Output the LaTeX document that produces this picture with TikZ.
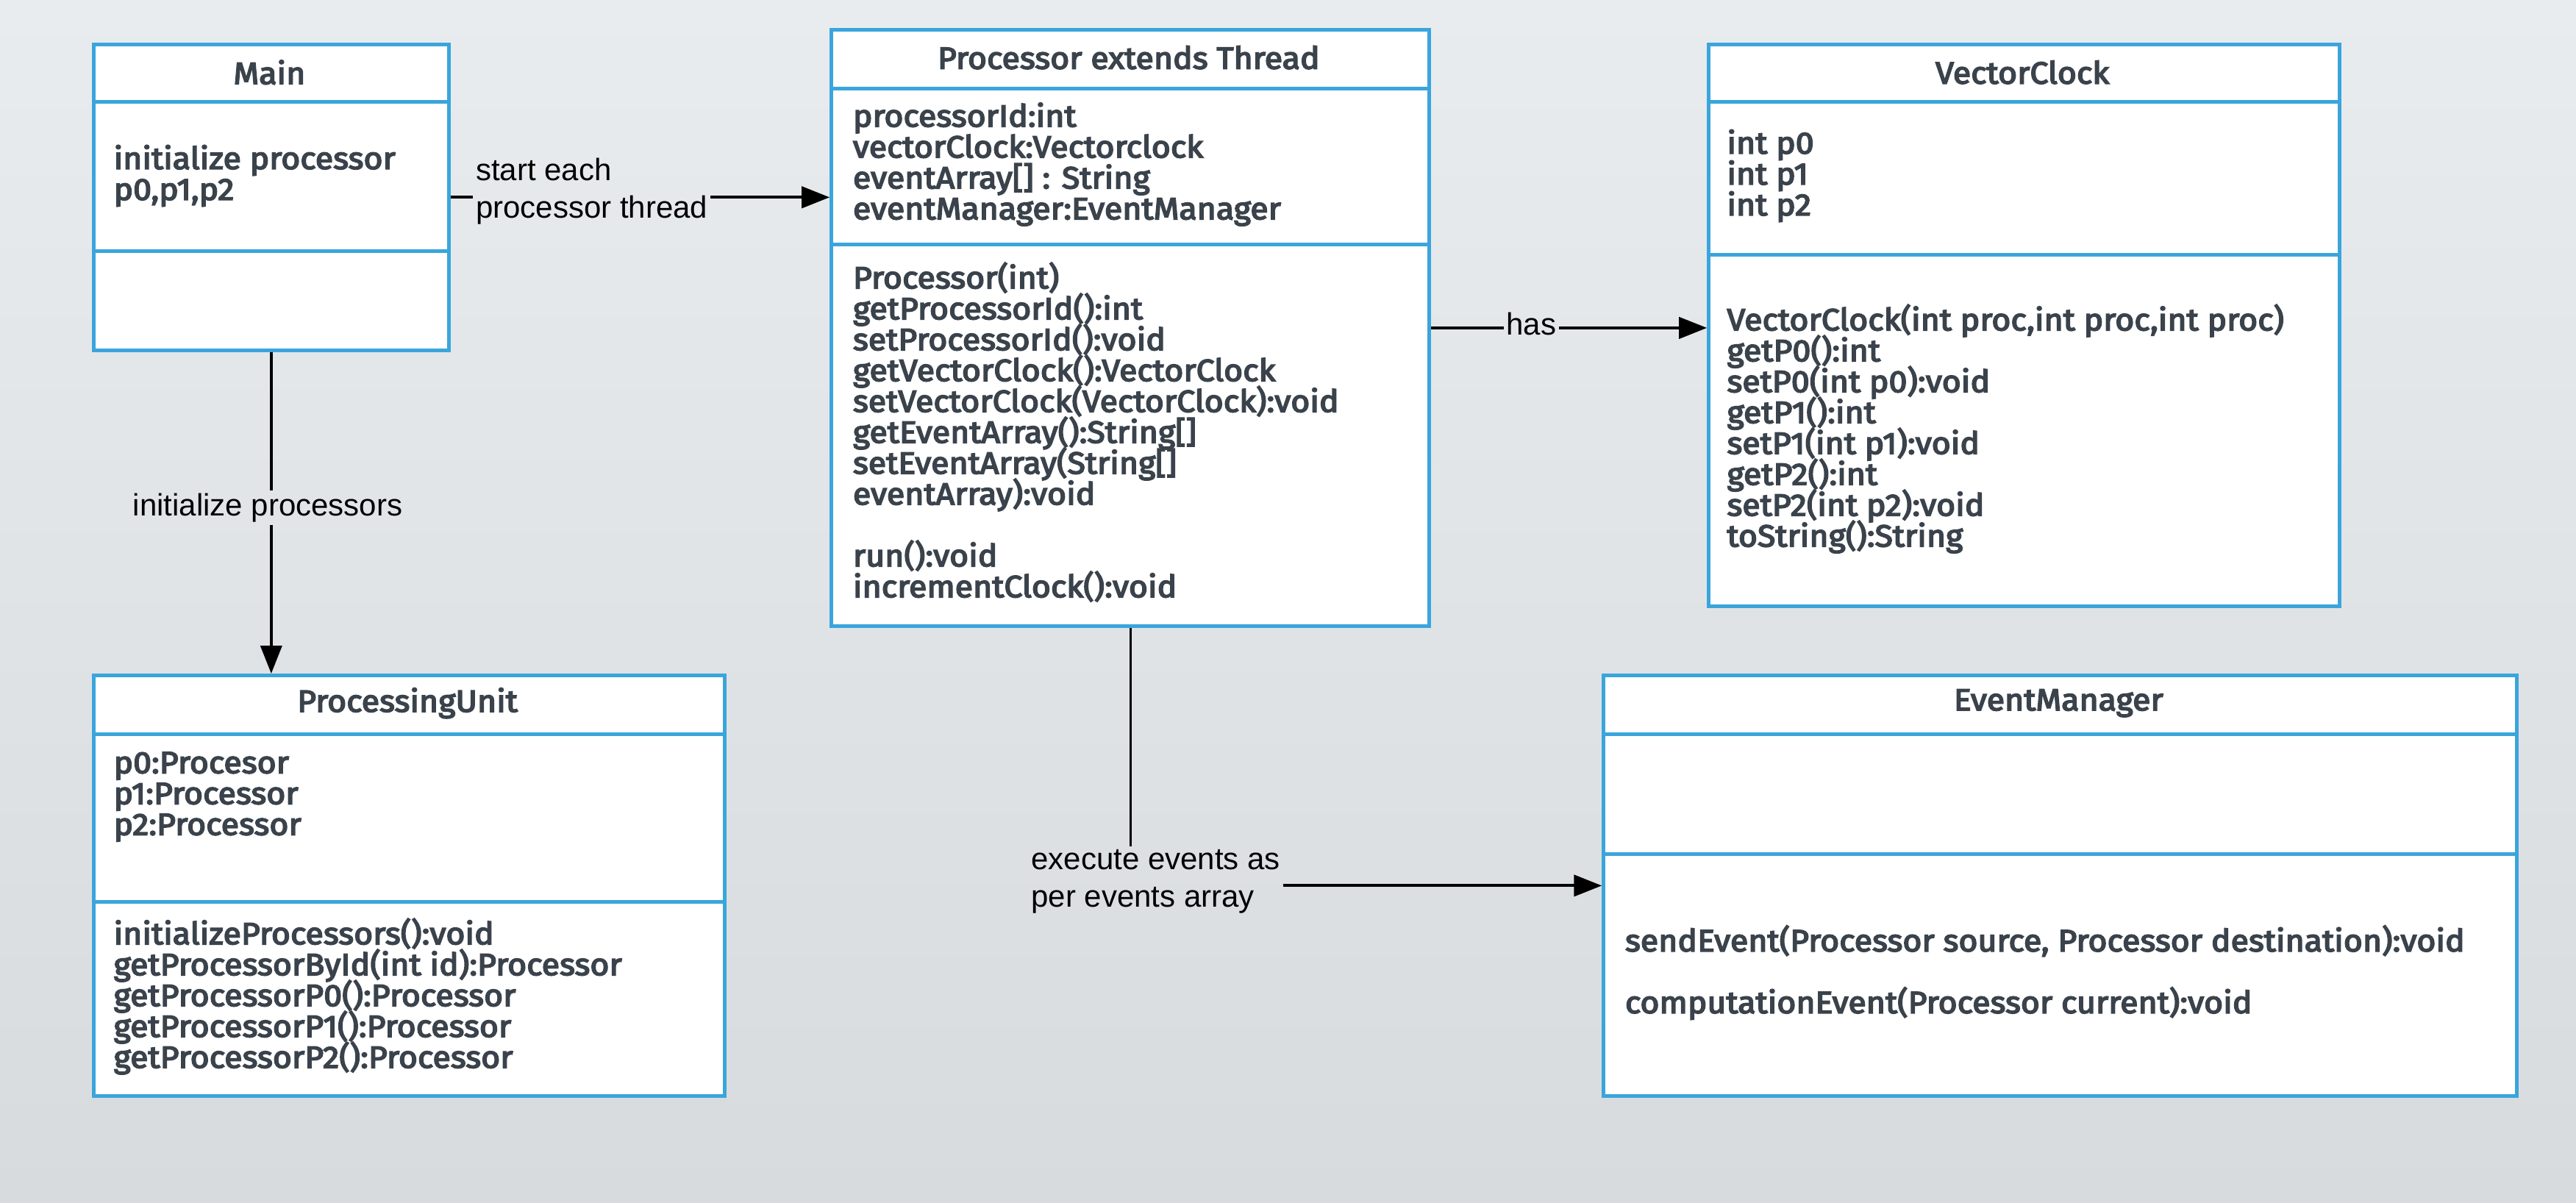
\documentclass[tikz,border=0pt]{standalone}
\usepackage{fontspec}
\usetikzlibrary{arrows.meta}
\newfontfamily\umlfont[FakeBold=4, FakeStretch=1.07]{Fira Sans}
\newfontfamily\labelfont{Liberation Sans}
\definecolor{bgtop}{RGB}{233,236,239}
\definecolor{bgbot}{RGB}{216,219,222}
\definecolor{umlblue}{RGB}{58,165,220}
\definecolor{umltext}{RGB}{58,66,75}
% class text: fixed line pitch even where glyph boxes touch
\newcommand\umlsize{\umlfont\fontsize{18.7}{18.8}\selectfont\lineskiplimit=-30pt\lineskip=0pt}
\begin{document}
\begin{tikzpicture}[x=1pt,y=-1pt,
  classbox/.style={draw=umlblue, fill=white, line width=2.2pt, anchor=north west, inner sep=0pt},
  divider/.style={draw=umlblue, line width=2.2pt},
  classtitle/.style={font=\umlsize, text=umltext, inner sep=0pt},
  members/.style={font=\umlsize, text=umltext, align=left, anchor=west, inner sep=0pt},
  conn/.style={draw=black, line width=1.8pt},
  thinconn/.style={draw=black, line width=1.1pt},
  arrow/.style={conn, -{Triangle[length=17pt,width=13pt]}},
  linklabel/.style={font=\labelfont\fontsize{18.8}{23}\selectfont, text=black, align=left, inner sep=1.5pt}
]
% page and background
\useasboundingbox (0,0) rectangle (1568,732);
\shade[top color=bgtop, bottom color=bgbot] (0,0) rectangle (1568,732);

% class boxes
\node[classbox, minimum width=216pt, minimum height=186pt] (main) at (56,26) {};
\node[classbox, minimum width=364pt, minimum height=363pt] (proc) at (505,17) {};
\node[classbox, minimum width=384pt, minimum height=342pt] (vc) at (1039,26) {};
\node[classbox, minimum width=384pt, minimum height=256pt] (pu) at (56,410) {};
\node[classbox, minimum width=556pt, minimum height=256pt] (em) at (975,410) {};

% compartment dividers
\draw[divider] (main.west |- 0,62) -- (main.east |- 0,62);
\draw[divider] (main.west |- 0,153) -- (main.east |- 0,153);
\draw[divider] (proc.west |- 0,54) -- (proc.east |- 0,54);
\draw[divider] (proc.west |- 0,149) -- (proc.east |- 0,149);
\draw[divider] (vc.west |- 0,62) -- (vc.east |- 0,62);
\draw[divider] (vc.west |- 0,155) -- (vc.east |- 0,155);
\draw[divider] (pu.west |- 0,447) -- (pu.east |- 0,447);
\draw[divider] (pu.west |- 0,549) -- (pu.east |- 0,549);
\draw[divider] (em.west |- 0,447) -- (em.east |- 0,447);
\draw[divider] (em.west |- 0,520) -- (em.east |- 0,520);

% Main
\node[classtitle] (mainT) at (164,44) {Main};
\node[members] (mainA) at (69,107) {initialize processor\\p0,p1,p2};

% Processor
\node[classtitle] (procT) at (687,35) {Processor extends Thread};
\node[members] (procA) at (519,100) {processorId:int\\vectorClock:Vectorclock\\eventArray[] : String\\eventManager:EventManager};
\node[members] (procM) at (519,263) {Processor(int)\\getProcessorId():int\\setProcessorId():void\\getVectorClock():VectorClock\\setVectorClock(VectorClock):void\\getEventArray():String[]\\setEventArray(String[]\\eventArray):void\\[18.8pt]run():void\\incrementClock():void};

% VectorClock
\node[classtitle] (vcT) at (1231,44) {VectorClock};
\node[members] (vcA) at (1051,107) {int p0\\int p1\\int p2};
\node[members] (vcM) at (1051,261) {VectorClock(int proc,int proc,int proc)\\getP0():int\\setP0(int p0):void\\getP1():int\\setP1(int p1):void\\getP2():int\\setP2(int p2):void\\toString():String};

% ProcessingUnit
\node[classtitle] (puT) at (248,428) {ProcessingUnit};
\node[members] (puA) at (69,485) {p0:Procesor\\p1:Processor\\p2:Processor};
\node[members] (puM) at (69,606.5) {initializeProcessors():void\\getProcessorById(int id):Processor\\getProcessorP0():Processor\\getProcessorP1():Processor\\getProcessorP2():Processor};

% EventManager
\node[classtitle] (emT) at (1253,428) {EventManager};
\node[members] (emM) at (989,592) {sendEvent(Processor source, Processor destination):void\\[18.8pt]computationEvent(Processor current):void};

% connector labels
\node[linklabel, anchor=west] (lblStart) at (288,116.5) {start each\\processor thread};
\node[linklabel] (lblHas) at (932,197) {has};
\node[linklabel] (lblInit) at (163,309) {initialize processors};
\node[linklabel, anchor=west] (lblExec) at (626,536.5) {execute events as\\per events array};

% connectors
\draw[conn] (main.east) -- (main.east -| lblStart.west);
\draw[arrow] (main.east -| lblStart.east) -- (main.east -| proc.west);
\draw[conn] (proc.east) -- (proc.east -| lblHas.west);
\draw[arrow] (proc.east -| lblHas.east) -- (proc.east -| vc.west);
\draw[conn] (main.south) -- (main.south |- lblInit.north);
\draw[arrow] (main.south |- lblInit.south) -- (main.south |- pu.north);
\draw[thinconn] (proc.south) -- (proc.south |- lblExec.north);
\draw[arrow] (lblExec.east |- em.west) -- (em.west);
\end{tikzpicture}
\end{document}
